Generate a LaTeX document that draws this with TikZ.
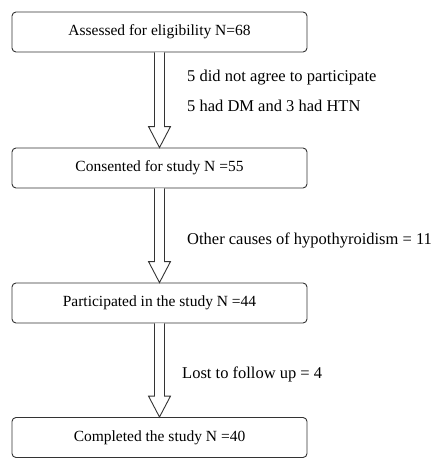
\documentclass[tikz,border=0pt]{standalone}
\usepackage{fontspec}
\setmainfont{Liberation Serif}
\usetikzlibrary{calc}
\begin{document}
\begin{tikzpicture}[x=1pt,y=-1pt,
  box/.style={draw=black!80,line width=0.9pt,rounded corners=4pt,minimum width=295pt,minimum height=40pt,inner sep=0pt,font=\fontsize{15.5}{17}\selectfont},
  lbl/.style={anchor=west,inner sep=0pt,font=\fontsize{16.5}{18}\selectfont},
  blk/.style={draw=black!80,line width=0.9pt,fill=white,line join=miter}]
\useasboundingbox (0,0) rectangle (443,458);
\node[box] (a) at (159.5,32) {Assessed for eligibility N=68};
\node[box] (b) at (159.5,168) {Consented for study N =55};
\node[box] (c) at (159.5,303) {Participated in the study N =44};
\node[box] (d) at (159.5,437.5) {Completed the study N =40};
\newcommand{\blockarrow}[2]{%
  \draw[blk] ($(#1.south)+(-5,0)$)
    -- ($(#2.north)+(-5,-21)$) -- ($(#2.north)+(-11,-21)$) -- (#2.north)
    -- ($(#2.north)+(11,-21)$) -- ($(#2.north)+(5,-21)$) -- ($(#1.south)+(5,0)$);}
\blockarrow{a}{b}
\blockarrow{b}{c}
\blockarrow{c}{d}
\node[lbl] (l1) at (187,78) {5 did not agree to participate};
\node[lbl] (l2) at (187,106) {5 had DM and 3 had HTN};
\node[lbl] (l3) at (187,240) {Other causes of hypothyroidism = 11};
\node[lbl] (l4) at (182,374) {Lost to follow up = 4};
\end{tikzpicture}
\end{document}
